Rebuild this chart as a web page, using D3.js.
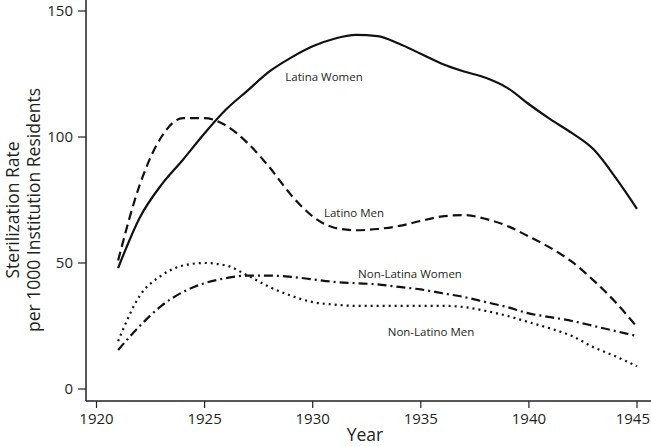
<!DOCTYPE html>
<html>
<head>
<meta charset="utf-8">
<script src="https://cdn.jsdelivr.net/npm/d3@7"></script>
<style>
  body { margin: 0; background: #fff; }
  text { font-family: "Open Sans", "Noto Sans", sans-serif; fill: #231f20; }
</style>
</head>
<body>
<svg id="chart" width="651" height="446"></svg>
<script>
// data
var years = d3.range(1921, 1946)
var latinaWomen = [48, 68, 81, 91, 101.5, 111, 118.5, 126, 131.5, 136, 139, 140.5, 140, 137, 133, 129, 126, 123.5, 119.5, 113, 107, 101.5, 95, 84, 71.5]
var latinoMen = [51, 81, 100, 107.5, 107.5, 104.5, 97.5, 88, 77, 68.5, 64, 63, 63.5, 64.7, 66.7, 68.5, 69, 67.5, 64.7, 60.5, 56, 50.4, 43, 34.5, 24.6]
var nonLatinaWomen = [15.5, 25, 33, 38.5, 42, 44, 45, 45, 44.5, 43.5, 42.5, 42, 41.5, 40.5, 39.5, 38, 36.5, 34.5, 32.5, 30, 28.5, 27, 25, 23, 21]
var nonLatinoMen = [19, 37, 45, 49, 50, 49, 45, 40.5, 37, 34.5, 33.5, 33, 33, 33, 33, 33, 32.5, 31, 29, 26.5, 24, 21, 16.5, 13, 9]
var xTicks = [1920, 1925, 1930, 1935, 1940, 1945]
var yTicks = [0, 50, 100, 150]

var series = [
  { name: 'Latina Women', values: latinaWomen, dash: null, lx: 324, ly: 77 },
  { name: 'Latino Men', values: latinoMen, dash: '9,5', lx: 354, ly: 213 },
  { name: 'Non-Latina Women', values: nonLatinaWomen, dash: '9,4,2,4', lx: 410, ly: 274 },
  { name: 'Non-Latino Men', values: nonLatinoMen, dash: '2,4', lx: 431, ly: 332 }
]

var W = 651
var svg = d3.select('#chart')
var x = d3.scaleLinear().domain([1920, 1945]).range([96.5, 637])
var y = d3.scaleLinear().domain([0, 150]).range([389, 11])

var axisX = 86, axisY = 401

// axes
svg.append('line').attr('x1', axisX).attr('x2', axisX).attr('y1', 0).attr('y2', axisY)
  .attr('stroke', '#231f20').attr('stroke-width', 1.5)
svg.append('line').attr('x1', axisX).attr('x2', W).attr('y1', axisY).attr('y2', axisY)
  .attr('stroke', '#231f20').attr('stroke-width', 1.5)

var gy = svg.append('g')
yTicks.forEach(function (t) {
  gy.append('line').attr('x1', axisX - 8).attr('x2', axisX).attr('y1', y(t)).attr('y2', y(t))
    .attr('stroke', '#231f20').attr('stroke-width', 1.2)
  gy.append('text').attr('x', axisX - 13).attr('y', y(t)).attr('dy', '0.36em')
    .attr('text-anchor', 'end').attr('font-size', 15).text(t)
})

var gx = svg.append('g')
xTicks.forEach(function (t) {
  gx.append('line').attr('x1', x(t)).attr('x2', x(t)).attr('y1', axisY).attr('y2', axisY + 7)
    .attr('stroke', '#231f20').attr('stroke-width', 1.2)
  var lab = gx.append('text').attr('y', 419).attr('dy', '0.36em')
    .attr('font-size', 15).text(t)
  // keep the last label inside the page
  if (x(t) + 18 > W) lab.attr('x', W - 1).attr('text-anchor', 'end')
  else lab.attr('x', x(t)).attr('text-anchor', 'middle')
})

// axis titles
svg.append('text').attr('x', 365).attr('y', 440.5).attr('text-anchor', 'middle')
  .attr('font-size', 17.5).text('Year')
var yt = svg.append('text').attr('transform', 'translate(0,210) rotate(-90)')
  .attr('text-anchor', 'middle').attr('font-size', 17.5)
yt.append('tspan').attr('x', 0).attr('y', 19).text('Sterilization Rate')
yt.append('tspan').attr('x', 0).attr('y', 40).text('per 1000 Institution Residents')

// lines
var line = d3.line()
  .x(function (d, i) { return x(years[i]) })
  .y(function (d) { return y(d) })
  .curve(d3.curveMonotoneX)

series.forEach(function (s) {
  svg.append('path').datum(s.values)
    .attr('d', line)
    .attr('fill', 'none')
    .attr('stroke', '#111')
    .attr('stroke-width', 2.2)
    .attr('stroke-dasharray', s.dash)
  svg.append('text').attr('x', s.lx).attr('y', s.ly).attr('dy', '0.35em')
    .attr('text-anchor', 'middle').attr('font-size', 11.5).text(s.name)
})
</script>
</body>
</html>
